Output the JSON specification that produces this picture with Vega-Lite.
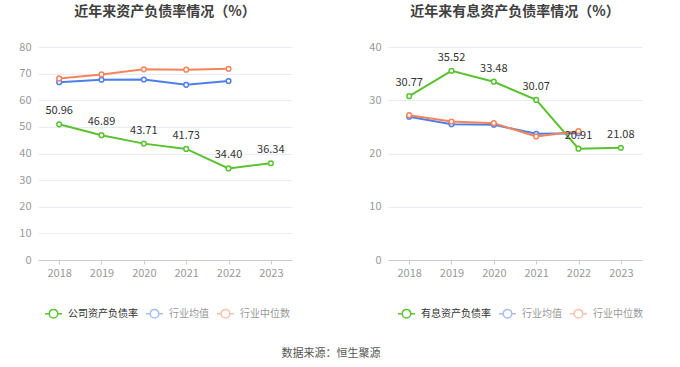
{
  "$schema": "https://vega.github.io/schema/vega-lite/v6.json",
  "autosize": {"type": "pad"},
  "padding": {"left": 18, "top": 5, "right": 0, "bottom": 0},
  "background": "white",
  "config": {
    "font": "Noto Sans CJK SC",
    "view": {"stroke": null},
    "title": {"font": "Noto Sans CJK SC", "fontSize": 14, "fontWeight": "bold", "color": "#404040"},
    "axis": {"labelFont": "Noto Sans CJK SC", "labelFontSize": 11, "labelColor": "#999999", "title": null}
  },
  "title": {"text": "数据来源：恒生聚源", "orient": "bottom", "anchor": "middle", "fontSize": 11, "fontWeight": "normal", "color": "#555555", "offset": 27},
  "datasets": {
    "a": [
      {"year": "2018", "series": "公司资产负债率", "value": 50.96},
      {"year": "2019", "series": "公司资产负债率", "value": 46.89},
      {"year": "2020", "series": "公司资产负债率", "value": 43.71},
      {"year": "2021", "series": "公司资产负债率", "value": 41.73},
      {"year": "2022", "series": "公司资产负债率", "value": 34.40},
      {"year": "2023", "series": "公司资产负债率", "value": 36.34},
      {"year": "2018", "series": "行业均值", "value": 66.8},
      {"year": "2019", "series": "行业均值", "value": 67.7},
      {"year": "2020", "series": "行业均值", "value": 67.8},
      {"year": "2021", "series": "行业均值", "value": 65.8},
      {"year": "2022", "series": "行业均值", "value": 67.2},
      {"year": "2018", "series": "行业中位数", "value": 68.2},
      {"year": "2019", "series": "行业中位数", "value": 69.7},
      {"year": "2020", "series": "行业中位数", "value": 71.6},
      {"year": "2021", "series": "行业中位数", "value": 71.5},
      {"year": "2022", "series": "行业中位数", "value": 71.8}
    ],
    "b": [
      {"year": "2018", "series": "有息资产负债率", "value": 30.77},
      {"year": "2019", "series": "有息资产负债率", "value": 35.52},
      {"year": "2020", "series": "有息资产负债率", "value": 33.48},
      {"year": "2021", "series": "有息资产负债率", "value": 30.07},
      {"year": "2022", "series": "有息资产负债率", "value": 20.91},
      {"year": "2023", "series": "有息资产负债率", "value": 21.08},
      {"year": "2018", "series": "行业均值", "value": 26.9},
      {"year": "2019", "series": "行业均值", "value": 25.5},
      {"year": "2020", "series": "行业均值", "value": 25.4},
      {"year": "2021", "series": "行业均值", "value": 23.7},
      {"year": "2022", "series": "行业均值", "value": 23.8},
      {"year": "2018", "series": "行业中位数", "value": 27.2},
      {"year": "2019", "series": "行业中位数", "value": 26.0},
      {"year": "2020", "series": "行业中位数", "value": 25.7},
      {"year": "2021", "series": "行业中位数", "value": 23.2},
      {"year": "2022", "series": "行业中位数", "value": 24.2}
    ]
  },
  "hconcat": [
    {
      "width": 254,
      "height": 213,
      "title": {"text": "近年来资产负债率情况（%）", "anchor": "middle", "frame": "group", "offset": 22},
      "data": {"name": "a"},
      "encoding": {
        "x": {"field": "year", "type": "ordinal", "scale": {"type": "point", "padding": 0.5},
          "axis": {"labelAngle": 0, "domainColor": "#cccccc", "tickColor": "#cccccc", "tickSize": 4, "labelPadding": 3, "grid": false}},
        "y": {"field": "value", "type": "quantitative", "scale": {"domain": [0, 80]},
          "axis": {"values": [0, 10, 20, 30, 40, 50, 60, 70, 80], "domain": false, "ticks": false, "gridColor": "#e6ebf5", "labelPadding": 7}}
      },
      "layer": [
        {
          "mark": {"type": "line", "strokeWidth": 2},
          "encoding": {
            "color": {"field": "series", "type": "nominal",
              "scale": {"domain": ["公司资产负债率", "行业均值", "行业中位数"], "range": ["#5bc22f", "#4e7fe8", "#f5845c"]},
              "legend": {"orient": "none", "legendX": 6, "legendY": 257, "direction": "horizontal", "title": null,
                "symbolType": "M-1,0L-0.5,0M0.5,0L1,0M0.5,0A0.5,0.5,0,1,1,-0.5,0A0.5,0.5,0,1,1,0.5,0",
                "symbolSize": 289, "symbolStrokeWidth": 1.5, "symbolFillColor": "white",
                "labelFont": "Noto Sans CJK SC", "labelFontSize": 10, "labelOffset": 5, "columnPadding": 5,
                "encode": {
                  "symbols": {"update": {"strokeOpacity": {"signal": "datum.value === '公司资产负债率' ? 1 : 0.5"}, "fill": {"value": "white"}, "strokeWidth": {"value": 1.5}}},
                  "labels": {"update": {"fill": {"signal": "datum.value === '公司资产负债率' ? '#333333' : '#999999'"}}}
                }}
            }
          }
        },
        {
          "mark": {"type": "point", "filled": true, "fill": "white", "strokeWidth": 1.5, "size": 22, "opacity": 1},
          "encoding": {
            "stroke": {"field": "series", "type": "nominal",
              "scale": {"domain": ["公司资产负债率", "行业均值", "行业中位数"], "range": ["#5bc22f", "#4e7fe8", "#f5845c"]},
              "legend": null}
          }
        },
        {
          "transform": [{"filter": "datum.series === '公司资产负债率'"}],
          "mark": {"type": "text", "dy": -13, "fontSize": 11, "color": "#333333", "font": "Noto Sans CJK SC"},
          "encoding": {"text": {"field": "value", "type": "quantitative", "format": ".2f"}}
        }
      ]
    },
    {
      "width": 254,
      "height": 213,
      "title": {"text": "近年来有息资产负债率情况（%）", "anchor": "middle", "frame": "group", "offset": 22},
      "data": {"name": "b"},
      "encoding": {
        "x": {"field": "year", "type": "ordinal", "scale": {"type": "point", "padding": 0.5},
          "axis": {"labelAngle": 0, "domainColor": "#cccccc", "tickColor": "#cccccc", "tickSize": 4, "labelPadding": 3, "grid": false}},
        "y": {"field": "value", "type": "quantitative", "scale": {"domain": [0, 40]},
          "axis": {"values": [0, 10, 20, 30, 40], "domain": false, "ticks": false, "gridColor": "#e6ebf5", "labelPadding": 7}}
      },
      "layer": [
        {
          "mark": {"type": "line", "strokeWidth": 2},
          "encoding": {
            "color": {"field": "series", "type": "nominal",
              "scale": {"domain": ["有息资产负债率", "行业均值", "行业中位数"], "range": ["#5bc22f", "#4e7fe8", "#f5845c"]},
              "legend": {"orient": "none", "legendX": 9, "legendY": 257, "direction": "horizontal", "title": null,
                "symbolType": "M-1,0L-0.5,0M0.5,0L1,0M0.5,0A0.5,0.5,0,1,1,-0.5,0A0.5,0.5,0,1,1,0.5,0",
                "symbolSize": 289, "symbolStrokeWidth": 1.5, "symbolFillColor": "white",
                "labelFont": "Noto Sans CJK SC", "labelFontSize": 10, "labelOffset": 5, "columnPadding": 5,
                "encode": {
                  "symbols": {"update": {"strokeOpacity": {"signal": "datum.value === '有息资产负债率' ? 1 : 0.5"}, "fill": {"value": "white"}, "strokeWidth": {"value": 1.5}}},
                  "labels": {"update": {"fill": {"signal": "datum.value === '有息资产负债率' ? '#333333' : '#999999'"}}}
                }}
            }
          }
        },
        {
          "mark": {"type": "point", "filled": true, "fill": "white", "strokeWidth": 1.5, "size": 22, "opacity": 1},
          "encoding": {
            "stroke": {"field": "series", "type": "nominal",
              "scale": {"domain": ["有息资产负债率", "行业均值", "行业中位数"], "range": ["#5bc22f", "#4e7fe8", "#f5845c"]},
              "legend": null}
          }
        },
        {
          "transform": [{"filter": "datum.series === '有息资产负债率'"}],
          "mark": {"type": "text", "dy": -13, "fontSize": 11, "color": "#333333", "font": "Noto Sans CJK SC"},
          "encoding": {"text": {"field": "value", "type": "quantitative", "format": ".2f"}}
        }
      ]
    }
  ],
  "resolve": {"scale": {"color": "independent", "stroke": "independent", "y": "independent", "x": "independent"}, "legend": {"color": "independent", "stroke": "independent"}},
  "spacing": 96,
  "bounds": "flush"
}
